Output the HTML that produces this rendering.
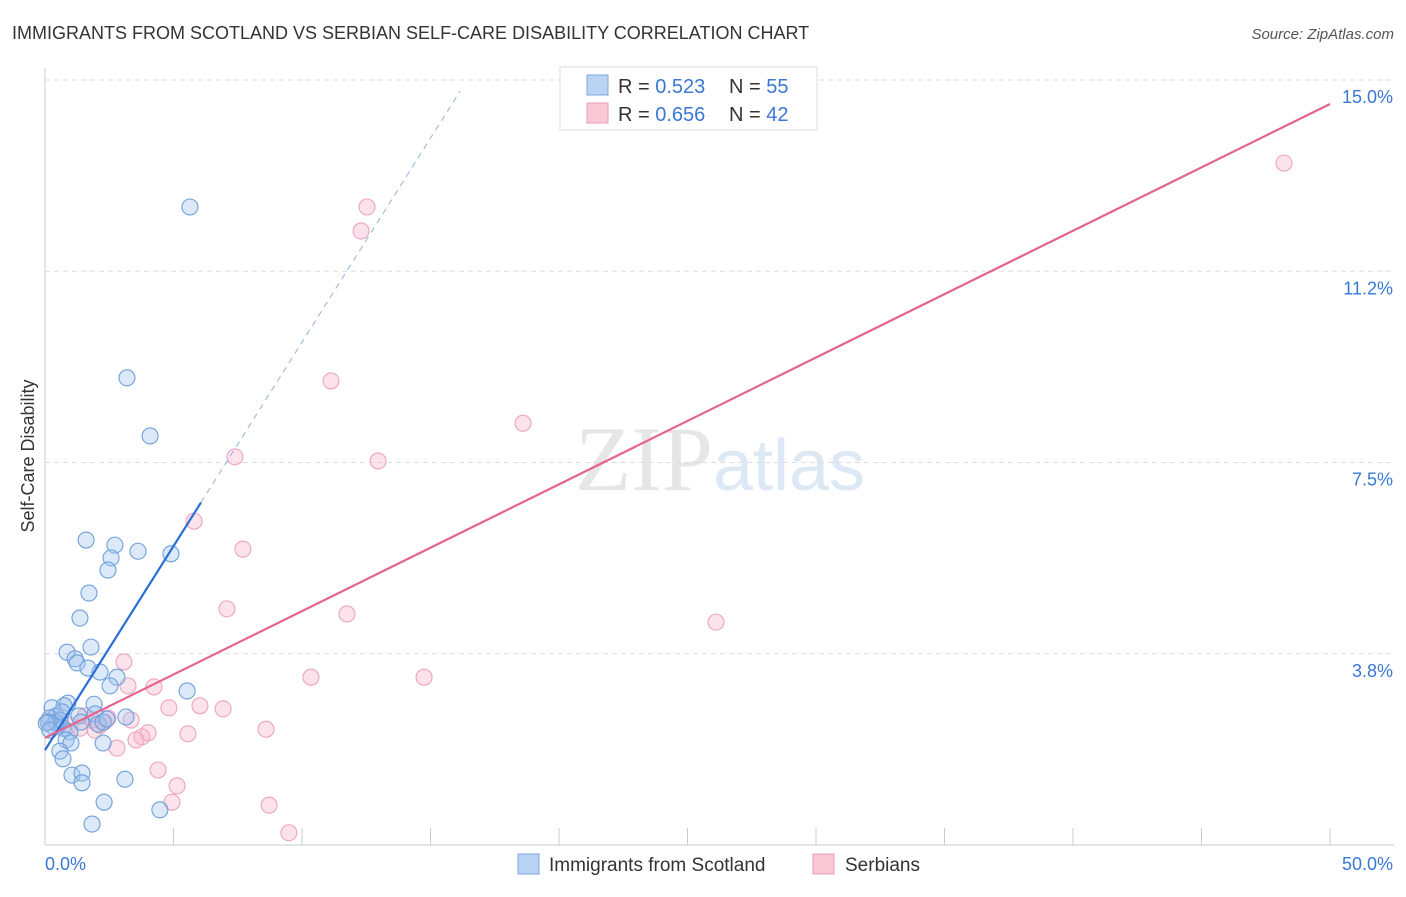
<!DOCTYPE html>
<html><head><meta charset="utf-8"><style>
body{margin:0;background:#fff;font-family:"Liberation Sans",sans-serif;}
svg text{font-family:"Liberation Sans",sans-serif;}
</style></head><body>
<svg id="chart" width="1406" height="892">
<text x="12" y="39" font-size="18" fill="#333">IMMIGRANTS FROM SCOTLAND VS SERBIAN SELF-CARE DISABILITY CORRELATION CHART</text>
<text x="1394" y="39" font-size="15" fill="#555" font-style="italic" text-anchor="end">Source: ZipAtlas.com</text>
<text x="720" y="490" font-size="92" fill="#e6e6e6" text-anchor="middle" font-family="Liberation Serif"><tspan font-family="Liberation Serif">ZIP</tspan><tspan fill="#dde8f5" font-family="Liberation Sans" font-size="72">atlas</tspan></text>
<text transform="translate(34,456) rotate(-90)" font-size="18" fill="#333" text-anchor="middle">Self-Care Disability</text>
<g id="grid"></g><g id="marks"></g>
<g>
<rect x="560" y="67" width="257" height="63" fill="#fff" stroke="#ddd"/>
<rect x="587" y="75" width="21" height="20" fill="#b9d3f3" stroke="#7aa7e0"/>
<rect x="587" y="103" width="21" height="20" fill="#f8c8d6" stroke="#ec9bb4"/>
<text x="618" y="93" font-size="20" fill="#333">R = <tspan fill="#3a78d4">0.523</tspan></text>
<text x="729" y="93" font-size="20" fill="#333">N = <tspan fill="#3a78d4">55</tspan></text>
<text x="618" y="121" font-size="20" fill="#333">R = <tspan fill="#3a78d4">0.656</tspan></text>
<text x="729" y="121" font-size="20" fill="#333">N = <tspan fill="#3a78d4">42</tspan></text>
</g>
<g>
<rect x="518" y="854" width="21" height="20" fill="#b9d3f3" stroke="#7aa7e0"/>
<text x="549" y="871" font-size="19" fill="#333">Immigrants from Scotland</text>
<rect x="813" y="854" width="21" height="20" fill="#f8c8d6" stroke="#ec9bb4"/>
<text x="845" y="871" font-size="19" fill="#333">Serbians</text>
</g>
</svg>
<script>
const yTicks=[3.75,7.5,11.25,15.0];
const yTickLabels=["3.8%","7.5%","11.2%","15.0%"];
const xTickLabels=["0.0%","50.0%"];
const blueX=[5.64,3.19,4.09,1.60,2.72,3.62,2.57,4.90,2.45,1.71,1.36,1.79,0.86,1.17,1.25,1.67,2.14,2.80,2.53,5.53,1.91,0.89,0.74,0.27,0.43,0.19,0.58,1.32,1.95,3.15,1.40,2.06,2.26,0.51,0.31,0.70,0.97,0.82,1.01,2.26,0.58,0.70,1.05,1.44,1.44,3.11,2.30,4.47,1.83,0.43,0.12,0.05,0.19,0.66,2.41];
const blueY=[12.51,9.16,8.02,5.98,5.88,5.76,5.63,5.71,5.39,4.94,4.45,3.88,3.78,3.65,3.57,3.47,3.39,3.29,3.12,3.02,2.76,2.78,2.73,2.69,2.53,2.49,2.45,2.53,2.57,2.51,2.41,2.37,2.41,2.35,2.33,2.29,2.22,2.06,2.00,2.00,1.84,1.69,1.37,1.41,1.22,1.29,0.84,0.69,0.41,2.41,2.41,2.39,2.25,2.61,2.47];
const pinkX=[48.21,12.53,12.30,11.13,18.60,7.39,12.96,5.80,7.70,7.08,11.75,26.11,3.07,10.35,14.75,4.24,3.23,4.82,6.03,6.93,2.45,2.30,3.35,1.56,4.01,3.77,3.54,5.56,8.60,2.80,4.40,5.14,4.94,8.72,9.49,0.58,0.97,1.36,1.95,0.19,2.14,1.83];
const pinkY=[13.37,12.51,12.04,9.10,8.27,7.61,7.53,6.35,5.80,4.63,4.53,4.37,3.59,3.29,3.29,3.10,3.12,2.69,2.73,2.67,2.49,2.41,2.45,2.53,2.20,2.12,2.06,2.18,2.27,1.90,1.47,1.16,0.84,0.78,0.24,2.45,2.35,2.29,2.25,2.41,2.35,2.45];
const blueTrend=[1.86,0.80];
const pinkTrend=[2.10,0.2486];
const NS="http://www.w3.org/2000/svg";
const X0=45,X1=1330,Y0=845;
const xs=v=>X0+v/50*(X1-X0);
const ys=v=>Y0-v*51.0;
function mk(tag,attrs,parent){const e=document.createElementNS(NS,tag);for(const k in attrs)e.setAttribute(k,attrs[k]);parent.appendChild(e);return e;}
const grid=document.getElementById('grid'),marks=document.getElementById('marks');
yTicks.forEach((t,i)=>{
 const l=mk('line',{x1:X0,x2:1394,y1:ys(t),y2:ys(t),stroke:'#ddd','stroke-dasharray':'5,4'},grid);
 
 
 const tx=mk('text',{x:1393,y:ys(t)+23,'font-size':18,fill:'#3a78d4','text-anchor':'end'},grid);
 tx.textContent=yTickLabels[i];
 
 
});
mk('line',{x1:X0,x2:X0,y1:68,y2:Y0,stroke:'#ccc'},grid);
mk('line',{x1:X0,x2:1394,y1:Y0,y2:Y0,stroke:'#ccc'},grid);
for(let i=1;i<=10;i++){const x=xs(i*5);const t=mk('line',{x1:x,x2:x,y1:828,y2:Y0,stroke:'#ccc'},grid);
 
 }
const xl0=mk('text',{x:45,y:870,'font-size':18,fill:'#3a78d4'},grid);xl0.textContent=xTickLabels[0];


const xl1=mk('text',{x:1393,y:870,'font-size':18,fill:'#3a78d4','text-anchor':'end'},grid);xl1.textContent=xTickLabels[1];


pinkX.forEach((v,i)=>{const c=mk('circle',{cx:xs(v),cy:ys(pinkY[i]),r:8,fill:'rgba(246,178,200,0.38)',stroke:'#eea4bc','stroke-width':1.1},marks);
 
 });
blueX.forEach((v,i)=>{const c=mk('circle',{cx:xs(v),cy:ys(blueY[i]),r:8,fill:'rgba(160,196,240,0.38)',stroke:'#6f9fdc','stroke-width':1.1},marks);
 
 });
const bEnd=6.07,bDash=16.15;
const bl=mk('line',{x1:xs(0),y1:ys(blueTrend[0]),x2:xs(bEnd),y2:ys(blueTrend[0]+blueTrend[1]*bEnd),stroke:'#2a6fd6','stroke-width':2.2},marks);


const bd=mk('line',{x1:xs(bEnd),y1:ys(blueTrend[0]+blueTrend[1]*bEnd),x2:xs(bDash),y2:ys(blueTrend[0]+blueTrend[1]*bDash),stroke:'#8fb2e4','stroke-width':1,'stroke-dasharray':'6,5'},marks);


const pl=mk('line',{x1:xs(0),y1:ys(pinkTrend[0]),x2:xs(50),y2:ys(pinkTrend[0]+pinkTrend[1]*50),stroke:'#e4648e','stroke-width':2.2},marks);


</script>
</body></html>
